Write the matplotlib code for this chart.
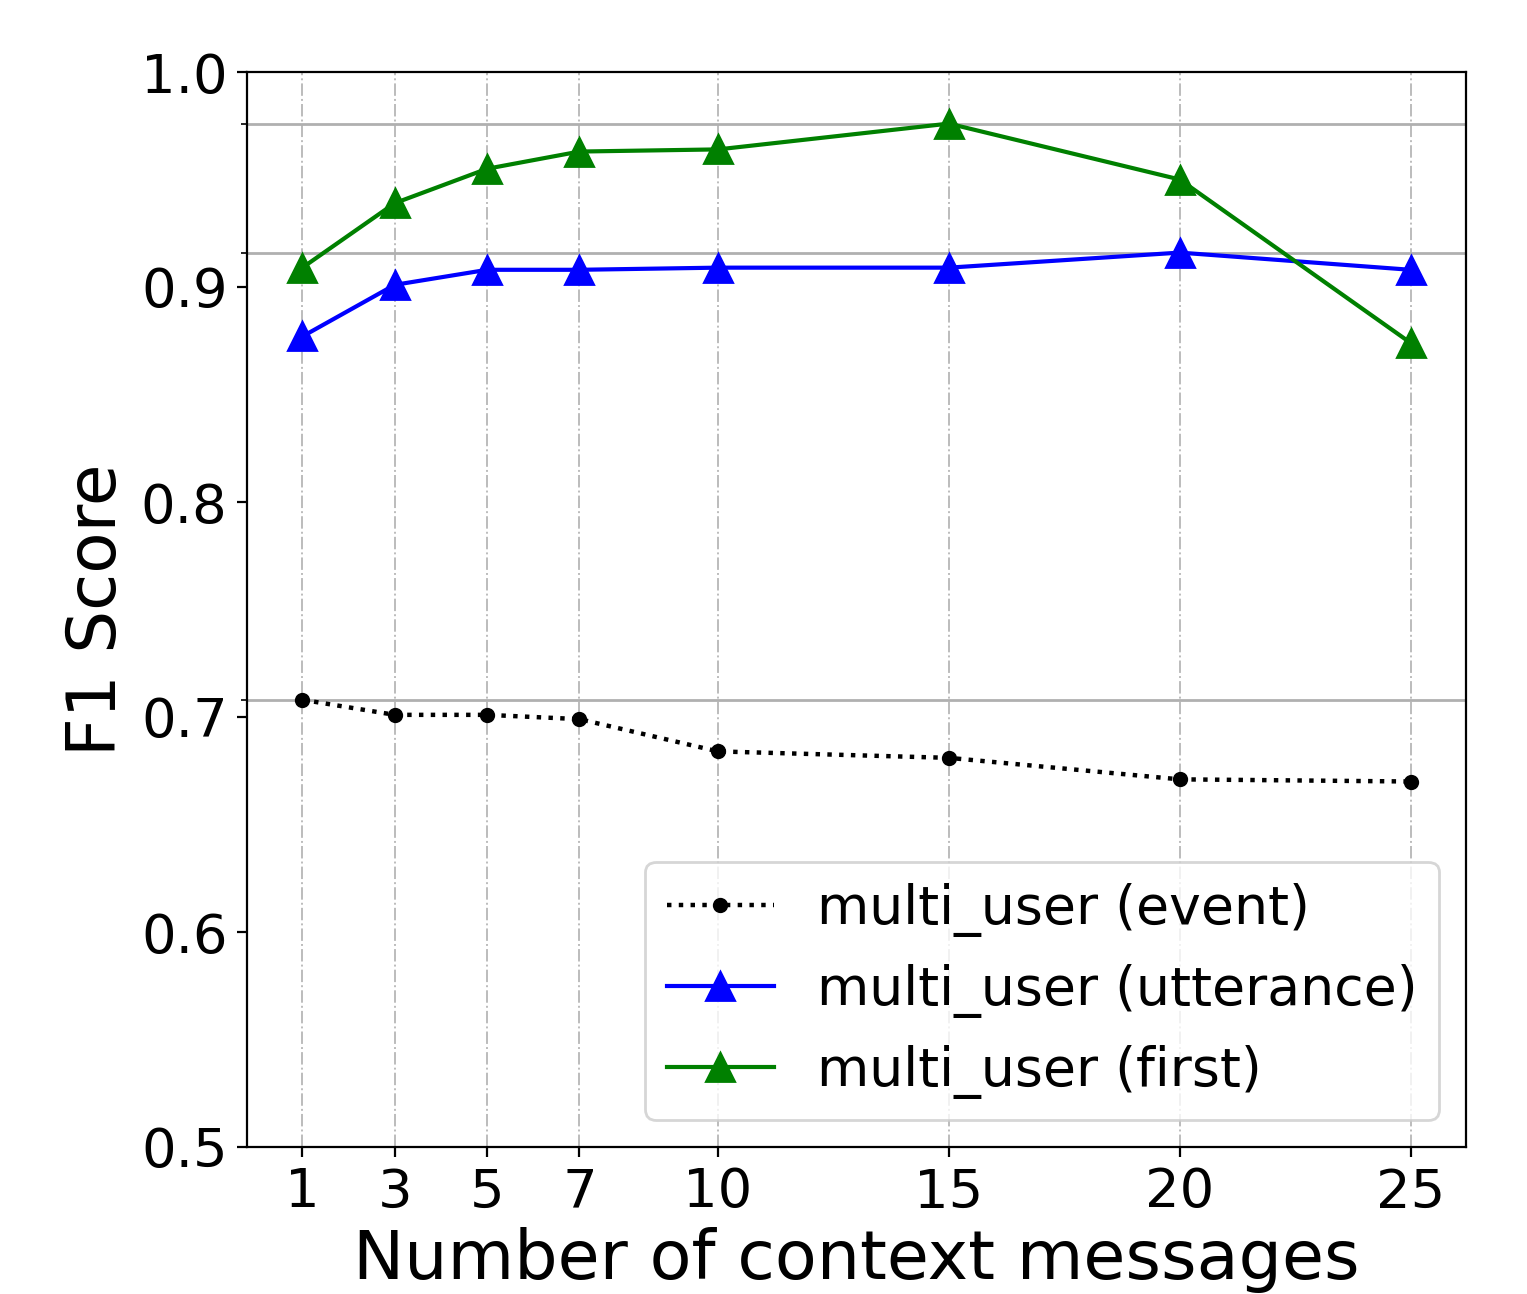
import numpy as np
import matplotlib
matplotlib.use('Agg')
import matplotlib.pyplot as plt

# Data
context_sizes = [1, 3, 5, 7, 10, 15, 20, 25]
f1_event = [0.708, 0.701, 0.701, 0.699, 0.684, 0.681, 0.671, 0.670]
f1_utterance = [0.877, 0.901, 0.908, 0.908, 0.909, 0.909, 0.916, 0.908]
f1_first = [0.909, 0.939, 0.955, 0.963, 0.964, 0.976, 0.950, 0.874]

fig = plt.figure(figsize=(1527 / 200, 1294 / 200), dpi=200)
ax = fig.add_axes([247 / 1527, 1 - 1147 / 1294, (1466 - 247) / 1527, (1147 - 72) / 1294])

ax.plot(context_sizes, f1_event, ':', marker='.', color='k', markersize=9, linewidth=1.6,
        label='multi_user (event)')
ax.plot(context_sizes, f1_utterance, '-', marker='^', color='b', markersize=10, linewidth=1.5,
        label='multi_user (utterance)')
ax.plot(context_sizes, f1_first, '-', marker='^', color='g', markersize=10, linewidth=1.5,
        label='multi_user (first)')

# Best value of each series as minor y ticks with grid lines
ax.set_yticks([max(f1_event), max(f1_utterance), max(f1_first)], minor=True)
ax.yaxis.grid(True, which='minor', color='#b0b0b0', linestyle='-', linewidth=1.0)
ax.xaxis.grid(True, which='major', color='#bcbcbc', linestyle='-.', linewidth=0.7)

ax.set_xticks(context_sizes)
ax.set_ylim(0.5, 1.0)
ax.set_yticks([0.5, 0.6, 0.7, 0.8, 0.9, 1.0])
ax.tick_params(axis='both', which='major', labelsize=19.6)

ax.set_xlabel('Number of context messages', fontsize=24.6, labelpad=3)
ax.set_ylabel('F1 Score', fontsize=24.3)

ax.legend(loc='lower right', fontsize=19.3)

fig.savefig('out.png', dpi=200)
